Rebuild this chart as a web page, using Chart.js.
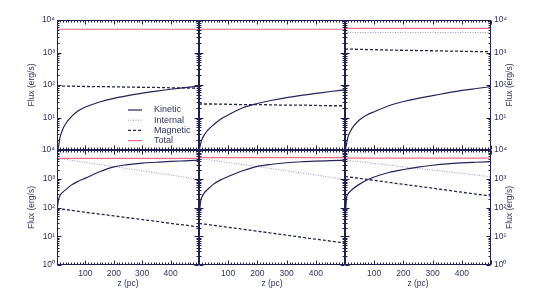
<!DOCTYPE html>
<html>
<head>
<meta charset="utf-8">
<script src="https://cdn.jsdelivr.net/npm/chart.js@4.4.0/dist/chart.umd.min.js"></script>
<style>
  html, body { margin: 0; padding: 0; background: #fff; }
  #wrap { position: relative; width: 538px; height: 302px; }
</style>
</head>
<body>
<div id="wrap"><canvas id="flux" width="538" height="302"></canvas></div>
<script>
// z grids (pc)
const zKin = [1, 5, 10, 20, 30, 50, 75, 100, 150, 200, 250, 300, 350, 400, 450, 500];
const zLin = [0, 50, 100, 150, 200, 250, 300, 350, 400, 450, 500];

const seriesNames = ['Kinetic', 'Internal', 'Magnetic', 'Total'];
const yTickValues = [1, 10, 100, 1000, 10000];
const yTickLabels = ['10⁰', '10¹', '10²', '10³', '10⁴'];
const xTickValues = [100, 200, 300, 400];

// top row (A, B, C)
const kineticA = [1, 1.2, 2.3, 4.3, 6.3, 10.5, 16, 21, 30, 39, 47, 56, 65, 74, 83, 93];
const kineticB = [1, 1.5, 2.1, 3.1, 4.1, 6, 9, 12, 20, 27, 34, 41, 48, 55, 63, 71];
const kineticC = [1, 1.5, 2.5, 4, 5.5, 8.5, 12, 15, 23, 31, 39, 47, 57, 68, 78, 89];
const internalA = [5150, 5150, 5150, 5150, 5150, 5150, 5150, 5150, 5150, 5150, 5150];
const internalB = [5150, 5150, 5150, 5150, 5150, 5150, 5150, 5150, 5150, 5150, 5150];
const internalC = [4150, 4150, 4150, 4150, 4150, 4150, 4150, 4150, 4150, 4150, 4150];
const magneticA = [93, 92, 90, 89, 88, 86, 85, 84, 82, 81, 80];
const magneticB = [26, 26, 25.5, 25, 25, 24.5, 24, 24, 23.5, 23, 23];
const magneticC = [1280, 1250, 1220, 1190, 1170, 1150, 1130, 1110, 1090, 1070, 1060];
const totalA = [5200, 5200, 5200, 5200, 5200, 5200, 5200, 5200, 5200, 5200, 5200];
const totalB = [5200, 5200, 5200, 5200, 5200, 5200, 5200, 5200, 5200, 5200, 5200];
const totalC = [5500, 5500, 5500, 5500, 5500, 5500, 5500, 5500, 5500, 5500, 5500];

// bottom row (D, E, F)
const kineticD = [90, 180, 250, 340, 410, 600, 820, 1050, 1750, 2600, 3100, 3500, 3750, 4000, 4200, 4400];
const kineticE = [50, 150, 230, 340, 430, 650, 920, 1200, 1900, 2700, 3200, 3600, 3900, 4100, 4250, 4400];
const kineticF = [40, 200, 290, 380, 470, 650, 900, 1150, 1650, 2100, 2550, 2950, 3300, 3550, 3750, 3950];
const internalD = [5100, 4400, 3700, 3100, 2650, 2250, 1900, 1600, 1350, 1130, 950];
const internalE = [5100, 4350, 3650, 3100, 2650, 2250, 1900, 1600, 1350, 1120, 940];
const internalF = [4450, 3900, 3400, 2980, 2600, 2280, 2000, 1750, 1530, 1340, 1170];
const magneticD = [92, 80, 68, 59, 51, 44, 38, 33, 28, 24.5, 21];
const magneticE = [28, 24, 20.5, 17.5, 15, 12.8, 10.9, 9.3, 7.9, 6.8, 5.8];
const magneticF = [1200, 1030, 880, 750, 640, 550, 470, 400, 340, 290, 250];
const totalD = [5150, 5150, 5150, 5150, 5150, 5150, 5150, 5150, 5150, 5150, 5150];
const totalE = [5400, 5400, 5400, 5400, 5400, 5400, 5400, 5400, 5400, 5400, 5400];
const totalF = [5200, 5200, 5200, 5200, 5200, 5200, 5200, 5200, 5200, 5200, 5200];

const textColor = '#2f3461';
const axisColor = '#1f2250';
const fontFamily = '"Liberation Sans", Arial, sans-serif';

const panels = [
  { x: 'x0', y: 'yT', kin: kineticA, int: internalA, mag: magneticA, tot: totalA },
  { x: 'x1', y: 'yT', kin: kineticB, int: internalB, mag: magneticB, tot: totalB },
  { x: 'x2', y: 'yT', kin: kineticC, int: internalC, mag: magneticC, tot: totalC },
  { x: 'x0', y: 'yB', kin: kineticD, int: internalD, mag: magneticD, tot: totalD },
  { x: 'x1', y: 'yB', kin: kineticE, int: internalE, mag: magneticE, tot: totalE },
  { x: 'x2', y: 'yB', kin: kineticF, int: internalF, mag: magneticF, tot: totalF }
];

const lineStyle = {
  Kinetic: { borderColor: '#22255a', borderWidth: 1.2, borderDash: [] },
  Internal: { borderColor: '#8f96cc', borderWidth: 1, borderDash: [1, 1.5] },
  Magnetic: { borderColor: '#23264f', borderWidth: 1.3, borderDash: [3, 2] },
  Total: { borderColor: '#ec7080', borderWidth: 1.2, borderDash: [] }
};

const pts = (zs, vals) => zs.map((z, i) => ({ x: z, y: vals[i] }));

const datasets = [];
panels.forEach(p => {
  // first in list is drawn on top
  [['Total', zLin, p.tot], ['Kinetic', zKin, p.kin], ['Magnetic', zLin, p.mag], ['Internal', zLin, p.int]]
    .forEach(([name, zs, vals]) => {
      datasets.push({
        label: name,
        data: pts(zs, vals),
        xAxisID: p.x,
        yAxisID: p.y,
        ...lineStyle[name],
        pointRadius: 0,
        fill: false,
        cubicInterpolationMode: 'monotone'
      });
    });
});

const xAxis = (weight, w) => ({
  type: 'linear', position: 'bottom', stack: 'xs', stackWeight: w, weight,
  min: 0, max: 500,
  afterBuildTicks: s => { s.ticks = xTickValues.map(v => ({ value: v })); },
  afterFit: s => { s.height = 37; },
  grid: { display: false, drawTicks: false },
  border: { display: false },
  ticks: { color: textColor, font: { family: fontFamily, size: 8.5 }, padding: 4, maxRotation: 0, autoSkip: false },
  title: { display: true, text: 'z (pc)', color: textColor, font: { family: fontFamily, size: 8.5 }, padding: { top: 0, bottom: 13 } }
});

const yAxis = (pos, weight, w, dropMin, title) => ({
  type: 'logarithmic', position: pos, stack: 'y' + pos, stackWeight: w, weight,
  min: 1, max: 10000,
  afterBuildTicks: s => {
    s.ticks = yTickValues.filter(v => !(dropMin && v === 1)).map(v => ({ value: v }));
  },
  afterFit: s => { s.width = pos === 'left' ? 57 : 47; },
  grid: { display: false, drawTicks: false },
  border: { display: false },
  ticks: {
    color: textColor, font: { family: fontFamily, size: 8.5 }, padding: pos === 'left' ? 2 : 3, autoSkip: false,
    callback: v => yTickLabels[yTickValues.indexOf(v)]
  },
  title: { display: !!title, text: 'Flux (erg/s)', color: textColor, font: { family: fontFamily, size: 8.5 }, padding: { top: 27, bottom: 0 } }
});

const framePlugin = {
  id: 'frames',
  afterDatasetsDraw(chart) {
    const ctx = chart.ctx;
    ctx.save();
    ctx.strokeStyle = axisColor;
    ctx.lineWidth = 1;
    ctx.setLineDash([]);
    panels.forEach(p => {
      const xs = chart.scales[p.x], ys = chart.scales[p.y];
      const l = Math.round(xs.left) + 0.5, r = Math.round(xs.right) - 0.5;
      const t = Math.round(ys.top) + 0.5, b = Math.round(ys.bottom) - 0.5;
      ctx.strokeRect(l, t, r - l, b - t);
      ctx.beginPath();
      for (let v = 0; v <= 500; v += 10) {
        const px = Math.round(xs.getPixelForValue(v)) + 0.5;
        const len = v % 100 === 0 ? 4 : 2;
        ctx.moveTo(px, b); ctx.lineTo(px, b - len);
        ctx.moveTo(px, t); ctx.lineTo(px, t + len);
      }
      for (let d = 1; d < 10000; d *= 10) {
        for (let k = 1; k < 10; k++) {
          const py = Math.round(ys.getPixelForValue(k * d)) + 0.5;
          const len = k === 1 ? 4 : 2;
          ctx.moveTo(l, py); ctx.lineTo(l + len, py);
          ctx.moveTo(r, py); ctx.lineTo(r - len, py);
        }
      }
      ctx.stroke();
    });

    // legend in the top-left panel
    ctx.font = '9px ' + fontFamily;
    ctx.textBaseline = 'middle';
    ctx.textAlign = 'left';
    seriesNames.forEach((name, i) => {
      const y = 110 + i * 10.2;
      const st = lineStyle[name];
      ctx.strokeStyle = st.borderColor;
      ctx.lineWidth = st.borderWidth;
      ctx.setLineDash(st.borderDash);
      ctx.beginPath();
      ctx.moveTo(128, y); ctx.lineTo(142, y);
      ctx.stroke();
      ctx.fillStyle = textColor;
      ctx.fillText(name, 154, y);
    });

    // right-hand axis titles
    ctx.font = '8.5px ' + fontFamily;
    ctx.textAlign = 'center';
    ['yTR', 'yBR'].forEach(id => {
      const s = chart.scales[id];
      ctx.save();
      ctx.translate(510, (s.top + s.bottom) / 2);
      ctx.rotate(-Math.PI / 2);
      ctx.fillText('Flux (erg/s)', 0, 0);
      ctx.restore();
    });
    ctx.restore();
  }
};

new Chart(document.getElementById('flux'), {
  type: 'line',
  data: { datasets },
  options: {
    responsive: false,
    animation: false,
    layout: { padding: { top: 20, left: 0, right: 0, bottom: 0 } },
    plugins: { legend: { display: false }, tooltip: { enabled: false } },
    scales: {
      x0: xAxis(1, 142),
      x1: xAxis(2, 146),
      x2: xAxis(3, 146),
      yT: yAxis('left', 2, 130, true, true),
      yB: yAxis('left', 1, 115, false, true),
      yTR: yAxis('right', 1, 130, true, false),
      yBR: yAxis('right', 2, 115, false, false)
    }
  },
  plugins: [framePlugin]
});
</script>
</body>
</html>
